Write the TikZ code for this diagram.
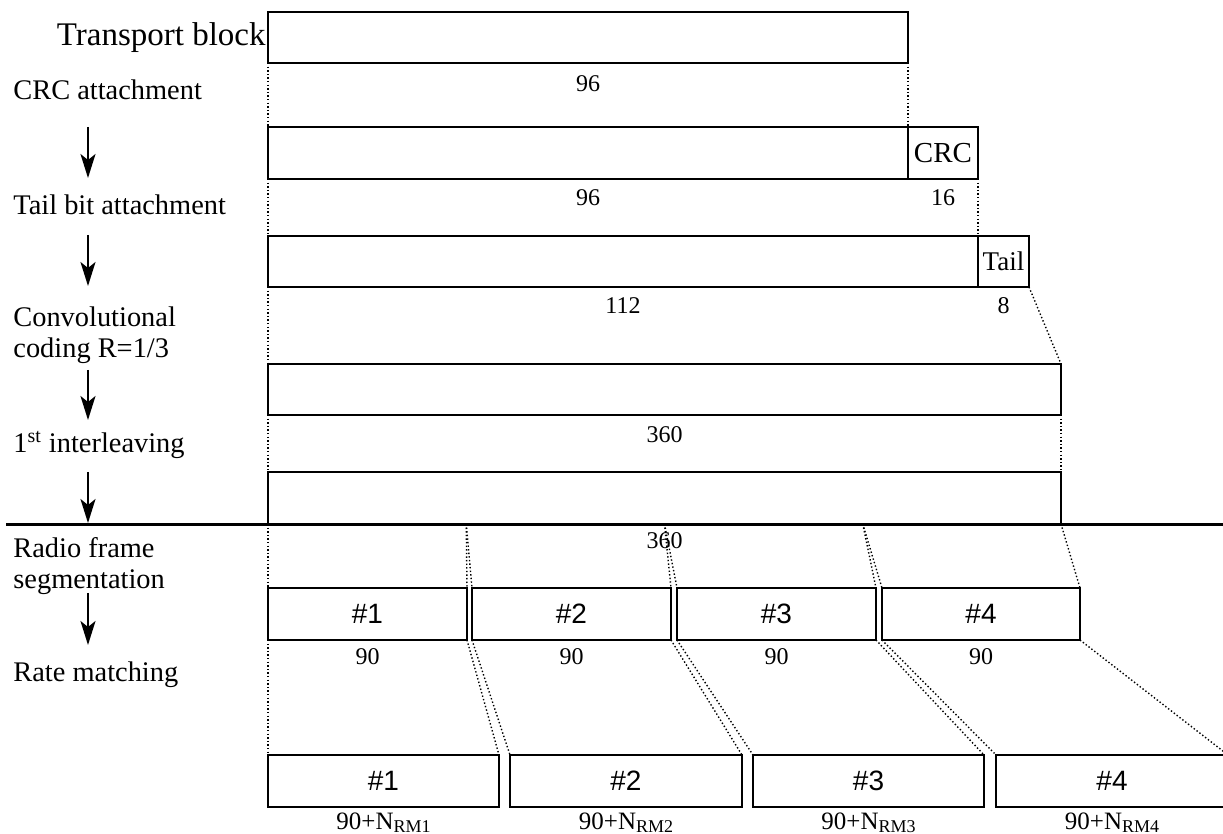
\documentclass[tikz,border=0pt]{standalone}
\usepackage{fontspec}
\setmainfont{Liberation Serif}
\newfontfamily\hashfont{Liberation Sans}
\usetikzlibrary{arrows.meta,positioning,calc}
\newcommand{\rmsub}[1]{\raisebox{-0.12em}{\fontsize{9}{10}\selectfont #1}}

\begin{document}
\begin{tikzpicture}[
  x=0.5pt, y=-0.5pt,
  blk/.style={draw,line width=1pt,anchor=north west,inner sep=0pt,outer sep=0pt,minimum height=25.5pt},
  segbox/.style={blk,minimum height=26pt,font=\hashfont\fontsize{14}{16}\selectfont},
  lbl/.style={inner sep=0pt,anchor=base west,font=\fontsize{14.2}{15.5}\selectfont},
  num/.style={inner sep=0pt,font=\fontsize{12}{14}\selectfont},
  seam/.style={line width=0.7pt,dash pattern=on 0.7pt off 1.1pt},
  flow/.style={-{Stealth[length=12pt,width=7.5pt,inset=3pt]},line width=1pt}
]
  \useasboundingbox (0,0) rectangle (1223,834);

  % stage labels
  \node[lbl] (lcrc) at (13,100) {CRC attachment};
  \node[lbl] (ltail) at (13,215) {Tail bit attachment};
  \node[lbl,anchor=west,align=left] (lconv) at (13,335) {Convolutional\\coding R=1/3};
  \node[lbl] (lint) at (13,453) {1\textsuperscript{st} interleaving};
  \node[lbl,anchor=west,align=left] (lseg) at (13,566) {Radio frame\\segmentation};
  \node[lbl] (lrm) at (13,682) {Rate matching};

  \foreach \i/\ya/\yb in {1/127/178,2/235/286,3/370/420,4/472/523,5/593/645} {
    \coordinate (as\i) at (88,\ya);
    \coordinate (ae\i) at (88,\yb);
    \draw[flow] (as\i) -- (ae\i);
  }

  % blocks
  \node[blk,minimum width=320pt] (tb) at (268,12) {};
  \node[inner sep=0pt,left=1pt of tb,font=\fontsize{16.5}{18}\selectfont] (ltb) {Transport block};
  \node[num,below=6pt of tb] (n96a) {96};

  \node[blk,minimum width=320pt,minimum height=26pt] (d2) at (268,127) {};
  \node[blk,minimum width=35pt,minimum height=26pt,anchor=west,right=0pt of d2,font=\fontsize{14.5}{16}\selectfont] (crc) {CRC};
  \node[num,below=5pt of d2] (n96b) {96};
  \node[num,below=5pt of crc] (n16) {16};

  \node[blk,minimum width=355pt] (d3) at (268,236) {};
  \node[blk,minimum width=25.5pt,anchor=west,right=0pt of d3,font=\fontsize{13.5}{15}\selectfont] (tail) {Tail};
  \node[num,below=5pt of d3] (n112) {112};
  \node[num,below=5pt of tail] (n8) {8};

  \node[blk,minimum width=396.5pt] (cc) at (268,364) {};
  \node[num,below=5.5pt of cc] (n360a) {360};

  \node[blk,minimum width=396.5pt,minimum height=26pt] (il) at (268,472) {};
  \node[num,below=4pt of il] (n360b) {360};

  \coordinate (sepL) at (6,525);
  \coordinate (sepR) at (1223,525);
  \draw[line width=1.5pt] (sepL) -- (sepR);

  % radio frames
  \node[segbox,minimum width=99.5pt] (s1) at (268,588) {\#1};
  \node[segbox,minimum width=99.5pt,anchor=west,right=2.5pt of s1] (s2) {\#2};
  \node[segbox,minimum width=99.5pt,anchor=west,right=3pt of s2] (s3) {\#3};
  \node[segbox,minimum width=99pt,anchor=west,right=3pt of s3] (s4) {\#4};
  \foreach \i in {1,...,4}
    \node[num,below=4pt of s\i] (ns\i) {90};

  \node[segbox,minimum width=115.5pt] (r1) at (268,755) {\#1};
  \node[segbox,minimum width=116pt,anchor=west,right=5.5pt of r1] (r2) {\#2};
  \node[segbox,minimum width=115.5pt,anchor=west,right=5.5pt of r2] (r3) {\#3};
  \node[segbox,minimum width=116pt,anchor=west,right=6pt of r3] (r4) {\#4};
  \foreach \i in {1,...,4}
    \node[num,anchor=base,font=\fontsize{12.5}{14}\selectfont] (nr\i) at (r\i.south |- 0,829) {90+N\rmsub{RM\i}};

  % dotted guides
  \draw[seam] (tb.south west) -- (d2.north west);
  \draw[seam] (tb.south east) -- (d2.north east);
  \draw[seam] (d2.south west) -- (d3.north west);
  \draw[seam] (crc.south east) -- (d3.north east);
  \draw[seam] (d3.south west) -- (cc.north west);
  \draw[seam] (tail.south east) -- (cc.north east);
  \draw[seam] (cc.south west) -- (il.north west);
  \draw[seam] (cc.south east) -- (il.north east);

  \coordinate (q1) at ($(il.south west)!0.25!(il.south east)$);
  \coordinate (q2) at ($(il.south west)!0.5!(il.south east)$);
  \coordinate (q3) at ($(il.south west)!0.75!(il.south east)$);
  \draw[seam] (il.south west) -- (s1.north west);
  \draw[seam] (q1) -- (s1.north east);
  \draw[seam] (q1) -- (s2.north west);
  \draw[seam] (q2) -- (s2.north east);
  \draw[seam] (q2) -- (s3.north west);
  \draw[seam] (q3) -- (s3.north east);
  \draw[seam] (q3) -- (s4.north west);
  \draw[seam] (il.south east) -- (s4.north east);

  \foreach \i in {1,...,4} {
    \draw[seam] (s\i.south west) -- (r\i.north west);
    \draw[seam] (s\i.south east) -- (r\i.north east);
  }
\end{tikzpicture}
\end{document}
